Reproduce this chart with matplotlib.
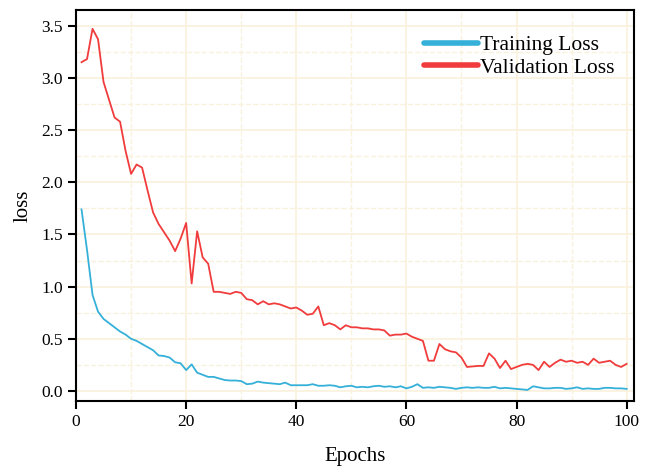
import numpy as np
import matplotlib
matplotlib.use('Agg')
import matplotlib.pyplot as plt
from matplotlib.ticker import MultipleLocator

plt.rcParams['font.family'] = ['Liberation Serif', 'DejaVu Serif']
plt.rcParams['mathtext.fontset'] = 'stix'

epochs = np.arange(1, 101)

# training loss
train_loss = [1.74, 1.35, 0.92, 0.76, 0.69, 0.65, 0.61, 0.57, 0.54, 0.50,
              0.48, 0.45, 0.42, 0.39, 0.34, 0.335, 0.32, 0.275, 0.265, 0.20,
              0.255, 0.175, 0.155, 0.135, 0.135, 0.12, 0.105, 0.10, 0.10, 0.095,
              0.065, 0.07, 0.09, 0.08, 0.075, 0.07, 0.065, 0.08, 0.055, 0.055,
              0.055, 0.055, 0.065, 0.05, 0.05, 0.055, 0.05, 0.035, 0.045, 0.05,
              0.035, 0.04, 0.035, 0.045, 0.05, 0.04, 0.045, 0.035, 0.045, 0.025,
              0.04, 0.065, 0.03, 0.035, 0.03, 0.04, 0.035, 0.03, 0.02, 0.03,
              0.035, 0.03, 0.035, 0.03, 0.03, 0.04, 0.025, 0.03, 0.025, 0.02,
              0.015, 0.01, 0.045, 0.035, 0.025, 0.025, 0.03, 0.03, 0.02, 0.025,
              0.035, 0.02, 0.025, 0.02, 0.02, 0.03, 0.03, 0.025, 0.025, 0.02]

val_loss = [3.15, 3.18, 3.47, 3.37, 2.96, 2.79, 2.62, 2.58, 2.30, 2.08,
            2.17, 2.14, 1.92, 1.71, 1.60, 1.52, 1.44, 1.34, 1.46, 1.61,
            1.03, 1.53, 1.28, 1.22, 0.95, 0.95, 0.94, 0.93, 0.95, 0.94,
            0.88, 0.87, 0.83, 0.86, 0.83, 0.84, 0.83, 0.81, 0.79, 0.80,
            0.77, 0.73, 0.74, 0.81, 0.63, 0.65, 0.63, 0.59, 0.63, 0.61,
            0.61, 0.60, 0.60, 0.59, 0.59, 0.58, 0.53, 0.54, 0.54, 0.55,
            0.52, 0.50, 0.48, 0.29, 0.29, 0.45, 0.40, 0.38, 0.37, 0.32,
            0.23, 0.235, 0.24, 0.24, 0.36, 0.31, 0.22, 0.29, 0.21, 0.23,
            0.25, 0.26, 0.25, 0.20, 0.28, 0.23, 0.27, 0.30, 0.28, 0.29,
            0.27, 0.28, 0.25, 0.31, 0.27, 0.28, 0.29, 0.25, 0.23, 0.26]

fig = plt.figure(figsize=(6.57, 4.66), dpi=100)
ax = fig.add_axes([0.1157, 0.1395, 0.849, 0.839])

ax.plot(epochs, train_loss, color='#35b0d8', lw=1.3, label='Training Loss')
ax.plot(epochs, val_loss, color='#f03c3c', lw=1.3, label='Validation Loss')

ax.set_xlim(0, 101.3)
ax.set_ylim(-0.096, 3.65)
ax.xaxis.set_major_locator(MultipleLocator(20))
ax.xaxis.set_minor_locator(MultipleLocator(10))
ax.yaxis.set_major_locator(MultipleLocator(0.5))
ax.yaxis.set_minor_locator(MultipleLocator(0.25))
ax.yaxis.set_major_formatter(plt.FormatStrFormatter('%.1f'))

ax.grid(which='major', color='#f9f1dc', lw=1.2)
ax.grid(which='minor', color='#f9f1dc', lw=1.0, ls='--')
ax.set_axisbelow(True)

for s in ax.spines.values():
    s.set_linewidth(1.5)
ax.tick_params(which='major', direction='out', length=6, width=1.5, labelsize=12.5)
ax.tick_params(which='minor', length=0)

ax.set_xlabel('Epochs', fontsize=15, labelpad=12)
ax.set_ylabel('loss', fontsize=15, labelpad=6)

leg = ax.legend(loc='upper right', frameon=False, fontsize=15.5,
                handlelength=2.5, handletextpad=0.1, labelspacing=0.1,
                bbox_to_anchor=(1.0, 0.985))
for line in leg.get_lines():
    line.set_linewidth(4)
    line.set_solid_capstyle('round')

fig.savefig('out.png', dpi=100)
